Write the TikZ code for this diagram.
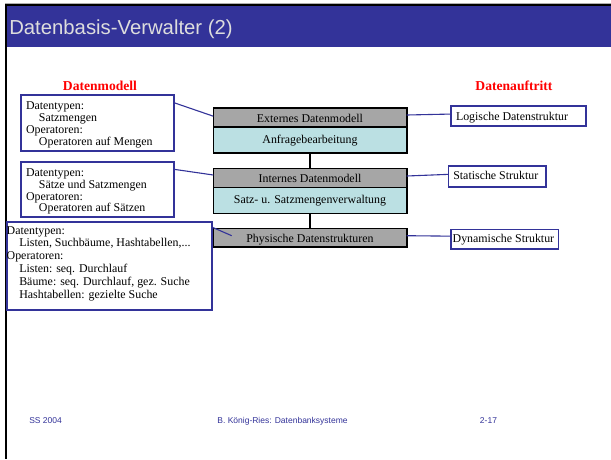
\documentclass[tikz,border=0pt]{standalone}
\usepackage{fontspec}
\setmainfont{Liberation Serif}
\newfontfamily\slidesans{Liberation Sans}
\definecolor{slideblue}{RGB}{51,51,153}
\definecolor{layergrey}{RGB}{166,166,166}
\definecolor{layercyan}{RGB}{187,224,227}
\definecolor{titlegrey}{RGB}{221,221,221}
\definecolor{rulegrey}{RGB}{175,175,175}
\begin{document}
\begin{tikzpicture}[x=1pt,y=-1pt,
  every node/.style={inner sep=0pt,outer sep=0pt},
  bodytext/.style={font=\fontsize{11.9}{12}\selectfont},
  headtext/.style={font=\fontsize{13.6}{14}\selectfont\bfseries,text=red},
  descbox/.style={draw=slideblue,line width=1.6pt,fill=white,anchor=north west},
  layerbox/.style={draw=black,line width=1.6pt,anchor=north west,minimum width=193.4pt},
  greylayer/.style={layerbox,fill=layergrey},
  cyanlayer/.style={layerbox,fill=layercyan},
  link/.style={draw=slideblue,line width=1.1pt},
  stem/.style={draw=black,line width=1.4pt},
  foot/.style={font=\slidesans\fontsize{8.5}{10}\selectfont,text=slideblue}
]
\useasboundingbox (0,0) rectangle (611,459);
\fill[white] (0,0) rectangle (611,459);

% slide frame and title bar
\fill[rulegrey] (5,2.6) rectangle (611,4);
\fill[black] (5,4) rectangle (611,6);
\fill[slideblue] (7,6) rectangle (611,46.7);
\fill[black] (5,4) rectangle (7,459);
\node[anchor=base west,font=\slidesans\fontsize{20.3}{22}\selectfont,text=titlegrey]
  (title) at (9.3,34.6) {Datenbasis-Verwalter (2)};

% column headings
\node[headtext,anchor=base] (hmodel) at (100,90) {Datenmodell};
\node[headtext,anchor=base] (hauftritt) at (514,90) {Datenauftritt};

% layer stack
\node[greylayer,minimum height=19pt] (ext) at (213.3,107.7) {};
\node[cyanlayer,minimum height=26pt] (anf) at (213.3,126.7) {};
\node[greylayer,minimum height=19pt] (int) at (213.3,168.3) {};
\node[cyanlayer,minimum height=26pt] (satz) at (213.3,187.3) {};
\node[greylayer,minimum height=18.4pt] (phys) at (213.3,228.3) {};
\draw[stem] (anf.south) -- (int.north);
\draw[stem] (satz.south) -- (phys.north);

\node[bodytext,anchor=base] (extt) at (310,122.3) {Externes Datenmodell};
\node[bodytext,anchor=base] (anft) at (310,143.3) {Anfragebearbeitung};
\node[bodytext,anchor=base] (intt) at (310,182.3) {Internes Datenmodell};
\node[bodytext,anchor=base] (satzt) at (310,203.3) {Satz- u. Satzmengenverwaltung};
\node[bodytext,anchor=base] (physt) at (310,242.7) {Physische Datenstrukturen};

% data model descriptions (anchored on the baseline of their last line)
\node[descbox,minimum width=153.3pt,minimum height=56pt] (dm1) at (20.7,95) {};
\node[anchor=base west,align=left,font=\fontsize{11.9}{11.9}\selectfont] (dm1t) at (26,145)
  {Datentypen:\\\hspace*{13pt}Satzmengen\\Operatoren:\\\hspace*{13pt}Operatoren auf Mengen};

\node[descbox,minimum width=153.3pt,minimum height=55pt] (dm2) at (20.7,161.7) {};
\node[anchor=base west,align=left,font=\fontsize{11.9}{11.7}\selectfont] (dm2t) at (26,211.7)
  {Datentypen:\\\hspace*{13pt}Sätze und Satzmengen\\Operatoren:\\\hspace*{13pt}Operatoren auf Sätzen};

\node[descbox,minimum width=205pt,minimum height=88.3pt] (dm3) at (6.7,221.7) {};
\node[anchor=base west,align=left,font=\fontsize{11.9}{12.86}\selectfont] (dm3t) at (6.7,298.3)
  {Datentypen:\\\hspace*{12.6pt}Listen, Suchbäume, Hashtabellen,...\\Operatoren:\\%
   \hspace*{12.6pt}Listen: seq. Durchlauf\\\hspace*{12.6pt}Bäume: seq. Durchlauf, gez. Suche\\%
   \hspace*{12.6pt}Hashtabellen: gezielte Suche};

% appearance descriptions
\node[descbox,minimum width=134.7pt,minimum height=19.7pt] (logi) at (451,106) {};
\node[bodytext,anchor=base west] (logit) at (456,120) {Logische Datenstruktur};
\node[descbox,minimum width=97.4pt,minimum height=20.7pt] (stat) at (448.3,166) {};
\node[bodytext,anchor=base west] (statt) at (453.3,179.3) {Statische Struktur};
\node[descbox,minimum width=107.3pt,minimum height=19.7pt] (dyn) at (451,229.3) {};
\node[bodytext,anchor=base west] (dynt) at (452.7,242.7) {Dynamische Struktur};

% connectors
\draw[link] ([yshift=-7.7pt]dm1.north east) -- ([yshift=1pt]ext.west);
\draw[link] ([yshift=-7.6pt]dm2.north east) -- ([yshift=2.8pt]int.west);
\coordinate (physin) at ([xshift=18.4pt,yshift=-7.4pt]phys.north west);
\draw[link] ([yshift=-5.3pt]dm3.north east) -- (physin);
\draw[link] ([yshift=2.2pt]ext.east) -- ([yshift=1.8pt]logi.west);
\draw[link] ([yshift=1.8pt]int.east) -- ([yshift=2pt]stat.west);
\draw[link] ([yshift=1.8pt]phys.east) -- ([yshift=3pt]dyn.west);

% footer
\node[foot,anchor=base west] (fleft) at (29.3,423.3) {SS 2004};
\node[foot,anchor=base] (fmid) at (282.5,423.3) {B. König-Ries: Datenbanksysteme};
\node[foot,anchor=base east] (fright) at (497,423.3) {2-17};
\end{tikzpicture}
\end{document}
